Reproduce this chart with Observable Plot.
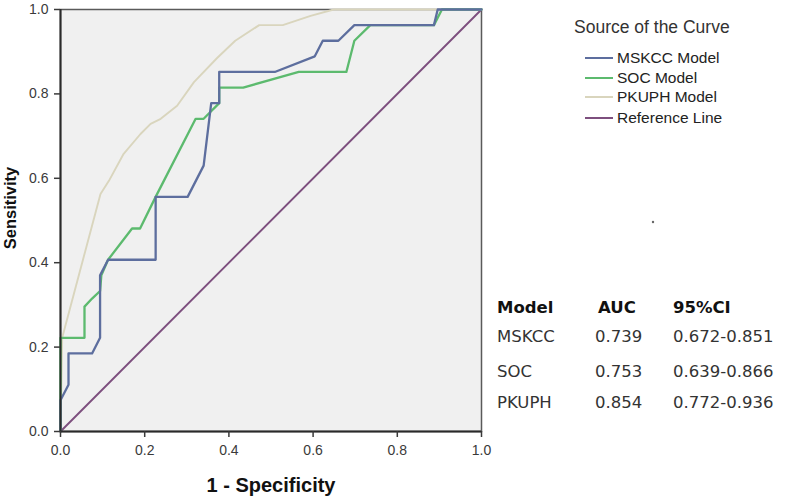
<!DOCTYPE html>
<html>
<head>
<meta charset="utf-8">
<script src="https://cdn.jsdelivr.net/npm/d3@7"></script>
<script src="https://cdn.jsdelivr.net/npm/@observablehq/plot@0.6"></script>
<style>
  html, body { margin: 0; padding: 0; background: #fff; }
  #chart { width: 785px; height: 501px; }
</style>
</head>
<body>
<div id="chart"></div>
<script>
// ROC curve points: [1 - specificity, sensitivity]
const mskccFpr = [0, 0, 0.019, 0.019, 0.075, 0.094, 0.094, 0.113, 0.226, 0.226, 0.302, 0.340, 0.358, 0.377, 0.377, 0.509, 0.604, 0.623, 0.660, 0.698, 0.887, 0.896, 1];
const mskccTpr = [0, 0.074, 0.111, 0.185, 0.185, 0.222, 0.370, 0.407, 0.407, 0.556, 0.556, 0.630, 0.778, 0.778, 0.852, 0.852, 0.889, 0.926, 0.926, 0.963, 0.963, 1.0, 1];

const socFpr = [0, 0, 0.057, 0.057, 0.075, 0.094, 0.097, 0.113, 0.170, 0.189, 0.226, 0.321, 0.340, 0.377, 0.377, 0.434, 0.566, 0.679, 0.698, 0.736, 0.887, 0.906, 1];
const socTpr = [0, 0.222, 0.222, 0.296, 0.315, 0.333, 0.370, 0.407, 0.481, 0.481, 0.556, 0.741, 0.741, 0.778, 0.815, 0.815, 0.852, 0.852, 0.926, 0.963, 0.963, 1.0, 1];

const pkuphFpr = [0, 0.004, 0.095, 0.115, 0.150, 0.190, 0.214, 0.238, 0.277, 0.317, 0.372, 0.415, 0.472, 0.528, 0.594, 0.649, 1];
const pkuphTpr = [0, 0.222, 0.563, 0.594, 0.658, 0.705, 0.729, 0.741, 0.772, 0.828, 0.885, 0.926, 0.963, 0.963, 0.985, 1.0, 1];

const refFpr = [0, 1];
const refTpr = [0, 1];

const xTicks = [0, 0.2, 0.4, 0.6, 0.8, 1.0];
const yTicks = [0, 0.2, 0.4, 0.6, 0.8, 1.0];

const seriesNames = ["MSKCC Model", "SOC Model", "PKUPH Model", "Reference Line"];
const seriesColors = ["#5d6e9e", "#5cba6e", "#d9d5bd", "#7d4f7e"];
const legendTitle = "Source of the Curve";

const tableHeaders = ["Model", "AUC", "95%CI"];
const tableModels = ["MSKCC", "SOC", "PKUPH"];
const tableAUC = ["0.739", "0.753", "0.854"];
const tableCI = ["0.672-0.851", "0.639-0.866", "0.772-0.936"];

const xLabel = "1 - Specificity";
const yLabel = "Sensitivity";

const toPts = (xs, ys) => xs.map((x, i) => ({x, y: ys[i]}));
const mskcc = toPts(mskccFpr, mskccTpr);
const soc = toPts(socFpr, socTpr);
const pkuph = toPts(pkuphFpr, pkuphTpr);
const ref = toPts(refFpr, refTpr);

const W = 785, H = 501;
const svg = Plot.plot({
  width: W,
  height: H,
  marginLeft: 60,
  marginRight: 304,
  marginTop: 9,
  marginBottom: 70,
  style: {fontFamily: "Liberation Sans, Arial, sans-serif", background: "#fff", overflow: "visible"},
  x: {domain: [0, 1]},
  y: {domain: [0, 1]},
  marks: [
    Plot.frame({fill: "#f0f0f0", stroke: "#5a5a5a", strokeWidth: 1.5}),
    Plot.line(ref, {x: "x", y: "y", stroke: seriesColors[3], strokeWidth: 1.9}),
    Plot.line(pkuph, {x: "x", y: "y", stroke: seriesColors[2], strokeWidth: 1.9}),
    Plot.line(soc, {x: "x", y: "y", stroke: seriesColors[1], strokeWidth: 2.3}),
    Plot.line(mskcc, {x: "x", y: "y", stroke: seriesColors[0], strokeWidth: 2.3}),
    Plot.ruleX([0], {stroke: "#2a2a2a", strokeWidth: 2}),
    Plot.ruleY([0], {stroke: "#2a2a2a", strokeWidth: 2}),
    Plot.axisX({ticks: xTicks, tickFormat: d3.format(".1f"), tickSize: 6, tickPadding: 8, fontSize: 14, color: "#3a3a3a", strokeWidth: 1.5, label: null}),
    Plot.axisY({ticks: yTicks, tickFormat: d3.format(".1f"), tickSize: 6, tickPadding: 6, fontSize: 14, color: "#3a3a3a", strokeWidth: 1.5, label: null})
  ]
});
document.getElementById("chart").appendChild(svg);

const g = d3.select(svg).append("g").attr("text-anchor", "start");

// Axis titles
g.append("text").attr("x", 271).attr("y", 492).attr("text-anchor", "middle")
  .attr("font-family", "Liberation Sans, Arial, sans-serif").attr("font-size", 20).attr("font-weight", "bold").attr("fill", "#111")
  .text(xLabel);
g.append("text").attr("transform", "translate(15.5,208) rotate(-90)").attr("text-anchor", "middle")
  .attr("font-family", "Liberation Sans, Arial, sans-serif").attr("font-size", 16.5).attr("font-weight", "bold").attr("fill", "#111")
  .text(yLabel);

// Legend
g.append("text").attr("x", 574).attr("y", 33)
  .attr("font-family", "Liberation Sans, Arial, sans-serif").attr("font-size", 17.5).attr("fill", "#333")
  .text(legendTitle);
const legendBase = [63, 83, 102, 123];
seriesNames.forEach((name, i) => {
  g.append("line").attr("x1", 585).attr("x2", 613)
    .attr("y1", legendBase[i] - 5).attr("y2", legendBase[i] - 5)
    .attr("stroke", seriesColors[i]).attr("stroke-width", 2);
  g.append("text").attr("x", 617).attr("y", legendBase[i])
    .attr("font-family", "Liberation Sans, Arial, sans-serif").attr("font-size", 15.5).attr("fill", "#222")
    .text(name);
});

// AUC table
const colX = [497, 598, 673];
const headBase = 313;
const rowBase = [342, 377, 408];
tableHeaders.forEach((h, j) => {
  g.append("text").attr("x", colX[j]).attr("y", headBase)
    .attr("font-family", "DejaVu Sans, sans-serif").attr("font-size", 16.5).attr("font-weight", "bold").attr("fill", "#111")
    .text(h);
});
const valX = [497, 595, 673];
tableModels.forEach((m, i) => {
  [m, tableAUC[i], tableCI[i]].forEach((v, j) => {
    g.append("text").attr("x", valX[j]).attr("y", rowBase[i])
      .attr("font-family", "DejaVu Sans, sans-serif").attr("font-size", 16.5).attr("fill", "#333")
      .text(v);
  });
});
g.append("circle").attr("cx", 653).attr("cy", 222).attr("r", 1.2).attr("fill", "#666");
</script>
</body>
</html>
